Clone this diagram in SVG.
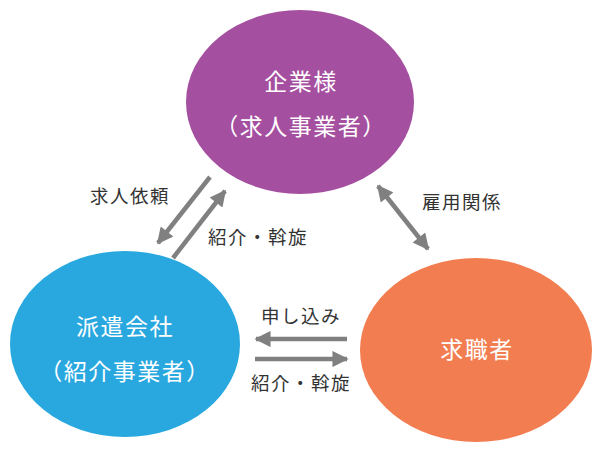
<svg xmlns="http://www.w3.org/2000/svg" width="600" height="460" viewBox="0 0 600 460">
<style>
.big{font-family:"Noto Sans CJK JP","Noto Sans",sans-serif;font-size:23px;fill:#fff;text-anchor:middle;letter-spacing:1.5px}
.lbl{font-family:"Noto Sans CJK JP","Noto Sans",sans-serif;font-size:18.5px;fill:#333;text-anchor:middle;letter-spacing:1.5px}
.arr{stroke:#808080;stroke-width:4.5;fill:none}
</style>
<defs>
<marker id="ah" viewBox="0 0 10 10" refX="9" refY="5" markerWidth="4" markerHeight="3.6" orient="auto-start-reverse" markerUnits="strokeWidth">
<path d="M0,0 L10,5 L0,10 z" fill="#808080"/>
</marker>
</defs>
<rect width="600" height="460" fill="#fff"/>
<g id="kigyou">
<ellipse cx="300" cy="102" rx="114" ry="92" fill="#A54FA0"/>
<text class="big" x="301" y="90">企業様</text>
<text class="big" x="301" y="135">（求人事業者）</text>
</g>
<g id="haken">
<ellipse cx="125" cy="344" rx="115" ry="93" fill="#29A8E0"/>
<text class="big" x="125" y="335">派遣会社</text>
<text class="big" x="125" y="380">（紹介事業者）</text>
</g>
<g id="kyushoku">
<ellipse cx="476" cy="350" rx="116" ry="92" fill="#F27D51"/>
<text class="big" x="477" y="358">求職者</text>
</g>
<g id="connectors">
<line class="arr" x1="210" y1="177" x2="158" y2="243" marker-end="url(#ah)"/>
<line class="arr" x1="173" y1="258" x2="225" y2="191" marker-end="url(#ah)"/>
<line class="arr" x1="378" y1="186" x2="428" y2="249" marker-start="url(#ah)" marker-end="url(#ah)"/>
<line class="arr" x1="347" y1="339" x2="256" y2="339" marker-end="url(#ah)"/>
<line class="arr" x1="255" y1="359" x2="347" y2="359" marker-end="url(#ah)"/>
</g>
<g id="labels">
<text class="lbl" x="130" y="203">求人依頼</text>
<text class="lbl" x="258" y="244">紹介・斡旋</text>
<text class="lbl" x="462" y="209">雇用関係</text>
<text class="lbl" x="301" y="323">申し込み</text>
<text class="lbl" x="301" y="390">紹介・斡旋</text>
</g>
</svg>
